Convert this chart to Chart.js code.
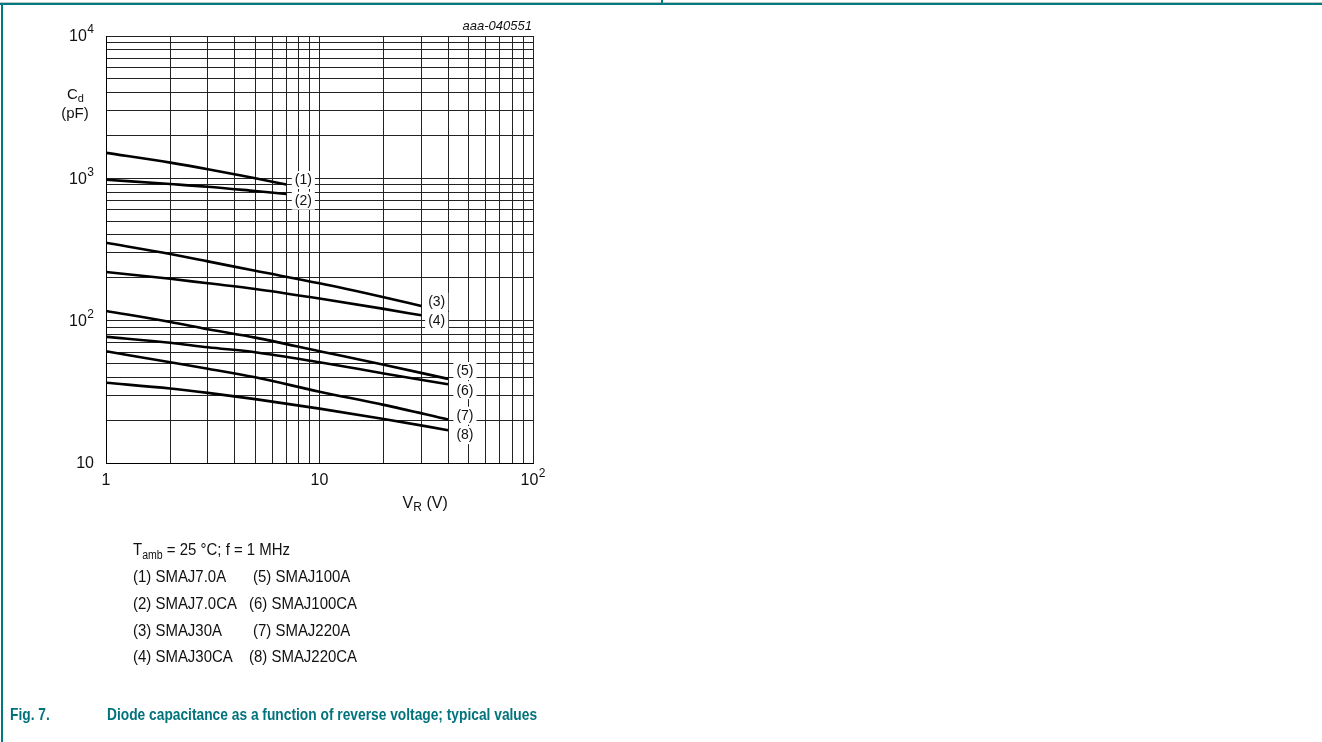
<!DOCTYPE html>
<html>
<head>
<meta charset="utf-8">
<script src="https://cdn.jsdelivr.net/npm/chart.js@4"></script>
<style>
  html, body { margin:0; padding:0; background:#fff; }
  body { width:1322px; height:742px; position:relative; overflow:hidden; font-family:"Liberation Sans", Arial, sans-serif; }
  #wrap { position:absolute; left:0; top:0; width:1322px; height:742px; }
  .topline { position:absolute; left:0; top:3px; width:1322px; height:2px; background:#007a80; }
  .topgray { position:absolute; left:0; top:2px; width:1322px; height:1px; background:#b8c8c8; }
  .leftline { position:absolute; left:1px; top:3px; width:2px; height:739px; background:#007a80; }
  .divline { position:absolute; left:661px; top:0; width:2px; height:4px; background:#007a80; }
  .note { position:absolute; font-size:17px; color:#111; white-space:pre; line-height:20px; transform:scaleX(0.88); transform-origin:left top; }
  .note sub { font-size:12px; vertical-align:-4px; line-height:0; }
  .cap { position:absolute; top:705px; font-size:17px; font-weight:bold; color:#00737c; white-space:pre; transform:scaleX(0.81); transform-origin:left top; }
</style>
</head>
<body>
<div id="wrap"><canvas id="c" width="1322" height="742"></canvas></div>
<div class="topgray"></div>
<div class="topline"></div>
<div class="leftline"></div>
<div class="divline"></div>
<div class="note" style="left:133px;top:540px;">T<sub>amb</sub> = 25 °C; f = 1 MHz</div>
<div class="note" style="left:133px;top:567px;">(1) SMAJ7.0A</div>
<div class="note" style="left:133px;top:594px;">(2) SMAJ7.0CA</div>
<div class="note" style="left:133px;top:621px;">(3) SMAJ30A</div>
<div class="note" style="left:133px;top:647px;">(4) SMAJ30CA</div>
<div class="note" style="left:253px;top:567px;">(5) SMAJ100A</div>
<div class="note" style="left:249px;top:594px;">(6) SMAJ100CA</div>
<div class="note" style="left:253px;top:621px;">(7) SMAJ220A</div>
<div class="note" style="left:249px;top:647px;">(8) SMAJ220CA</div>
<div class="cap" style="left:10px;">Fig. 7.</div>
<div class="cap" style="left:107px;">Diode capacitance as a function of reverse voltage; typical values</div>
<script>
// ---- data ----
const seriesNames = ["(1)", "(2)", "(3)", "(4)", "(5)", "(6)", "(7)", "(8)"];
const v1 = [1, 2, 3, 5, 7];
const c1 = [1510, 1290, 1160, 1000, 905];
const v2 = [1, 2, 3, 5, 7];
const c2 = [978, 912, 873, 814, 776];
const v3 = [1, 2, 3, 5, 10, 20, 30];
const c3 = [353, 294, 261, 224, 183, 146, 127];
const v4 = [1, 2, 3, 5, 10, 20, 30];
const c4 = [220, 197, 183, 167, 143, 121, 109];
const v5 = [1, 2, 3, 5, 10, 20, 40];
const c5 = [117, 98, 87, 76, 61, 49, 39];
const v6 = [1, 2, 3, 5, 10, 20, 40];
const c6 = [77, 70, 65, 60, 51, 42.6, 35.7];
const v7 = [1, 2, 3, 5, 10, 20, 40];
const c7 = [61, 51, 46, 40, 31.7, 25.6, 20.2];
const v8 = [1, 2, 3, 5, 10, 20, 40];
const c8 = [36.6, 33.4, 31.1, 28.1, 24.1, 20.4, 17.0];
// label anchor positions (data units)
const labelV = [8.4, 8.4, 35.4, 35.4, 48, 48, 48, 48];
const labelC = [973, 696, 136, 99.4, 44.3, 32.5, 21.5, 15.7];
// grid / tick values
const xGrid = [1,2,3,4,5,6,7,8,9,10,20,30,40,50,60,70,80,90,100];
const yGrid = [10,20,30,40,50,60,70,80,90,100,200,300,400,500,600,700,800,900,1000,2000,3000,4000,5000,6000,7000,8000,9000,10000];
const xTickLabels = [[1, "1", ""], [10, "10", ""], [100, "10", "2"]];
const yTickLabels = [[10, "10", ""], [100, "10", "2"], [1000, "10", "3"], [10000, "10", "4"]];

const vs = [v1, v2, v3, v4, v5, v6, v7, v8];
const cs = [c1, c2, c3, c4, c5, c6, c7, c8];

const FONT = '"Liberation Sans", Arial, sans-serif';

const datasets = vs.map((v, i) => ({
  label: seriesNames[i],
  data: v.map((x, j) => ({ x: x, y: cs[i][j] })),
  showLine: true,
  borderColor: '#000',
  borderWidth: 2.6,
  pointRadius: 0,
  cubicInterpolationMode: 'monotone',
  fill: false
}));

function drawSup(ctx, base, sup, x, y, align) {
  ctx.font = '16px ' + FONT;
  const wb = ctx.measureText(base).width;
  ctx.font = '12px ' + FONT;
  const ws = sup ? ctx.measureText(sup).width + 0.5 : 0;
  const total = wb + ws;
  let x0 = x;
  if (align === 'right') x0 = x - total;
  else if (align === 'center') x0 = x - total / 2;
  ctx.textAlign = 'left';
  ctx.textBaseline = 'middle';
  ctx.font = '16px ' + FONT;
  ctx.fillText(base, x0, y);
  if (sup) {
    ctx.font = '12px ' + FONT;
    ctx.fillText(sup, x0 + wb + 0.5, y - 7);
  }
}

const textPlugin = {
  id: 'texts',
  afterDatasetsDraw(chart) {
    const ctx = chart.ctx;
    const xs = chart.scales.x, ys = chart.scales.y;
    ctx.save();
    // series labels with white boxes
    ctx.font = '14px ' + FONT;
    labelV.forEach((lv, i) => {
      const px = xs.getPixelForValue(lv);
      const py = ys.getPixelForValue(labelC[i]);
      const w = ctx.measureText(seriesNames[i]).width;
      ctx.fillStyle = '#fff';
      ctx.fillRect(px - w / 2 - 3, py - 9, w + 6, 18);
      ctx.fillStyle = '#111';
      ctx.textAlign = 'center';
      ctx.textBaseline = 'middle';
      ctx.fillText(seriesNames[i], px, py + 0.5);
    });
    ctx.fillStyle = '#111';
    // y tick labels
    yTickLabels.forEach(t => {
      drawSup(ctx, t[1], t[2], xs.left - 12, ys.getPixelForValue(t[0]) + 1, 'right');
    });
    // x tick labels
    xTickLabels.forEach(t => {
      drawSup(ctx, t[1], t[2], xs.getPixelForValue(t[0]), ys.bottom + 18, 'center');
    });
    // x title
    ctx.font = '16px ' + FONT;
    ctx.textBaseline = 'middle';
    ctx.textAlign = 'left';
    const tx = xs.getPixelForValue(22) + 10;
    ctx.fillText('V', tx, ys.bottom + 41);
    let w = ctx.measureText('V').width;
    ctx.font = '12px ' + FONT;
    ctx.fillText('R', tx + w, ys.bottom + 45);
    let w2 = ctx.measureText('R').width;
    ctx.font = '16px ' + FONT;
    ctx.fillText(' (V)', tx + w + w2, ys.bottom + 41);
    // y title
    const yl = xs.left - 40;
    ctx.font = '15px ' + FONT;
    ctx.fillText('C', yl + 1, ys.top + 59);
    w = ctx.measureText('C').width;
    ctx.font = '11px ' + FONT;
    ctx.fillText('d', yl + 1 + w, ys.top + 63);
    ctx.font = '15px ' + FONT;
    ctx.textAlign = 'center';
    ctx.fillText('(pF)', yl + 9, ys.top + 78);
    // id code
    ctx.font = 'italic 13px ' + FONT;
    ctx.textAlign = 'right';
    ctx.fillText('aaa-040551', xs.right - 1, ys.top - 10);
    ctx.restore();
  }
};

new Chart(document.getElementById('c'), {
  type: 'scatter',
  data: { datasets },
  plugins: [textPlugin],
  options: {
    responsive: false,
    devicePixelRatio: 1,
    animation: false,
    layout: { padding: { left: 106, right: 789, top: 36, bottom: 279 } },
    plugins: { legend: { display: false }, tooltip: { enabled: false } },
    scales: {
      x: {
        type: 'logarithmic', min: 1, max: 100,
        afterBuildTicks: s => { s.ticks = xGrid.map(v => ({ value: v })); },
        afterFit: s => { s.height = 0; },
        ticks: { display: false },
        grid: { color: '#222', lineWidth: 1, drawTicks: false },
        border: { color: '#000', width: 1 }
      },
      y: {
        type: 'logarithmic', min: 10, max: 10000,
        afterBuildTicks: s => { s.ticks = yGrid.map(v => ({ value: v })); },
        afterFit: s => { s.width = 0; },
        ticks: { display: false },
        grid: { color: '#222', lineWidth: 1, drawTicks: false },
        border: { color: '#000', width: 1 }
      }
    }
  }
});
</script>
</body>
</html>
